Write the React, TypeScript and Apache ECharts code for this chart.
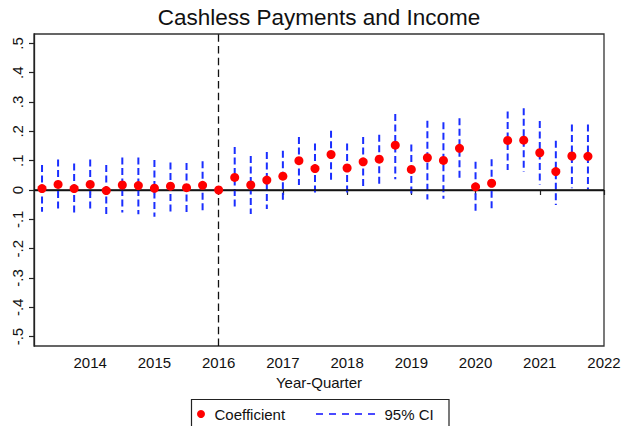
import React, { useEffect, useRef } from "react";
import * as echarts from "echarts";

// Event-study estimates by year-quarter (2016 Q1 is the reference period)
const period = [
  2013.25, 2013.5, 2013.75, 2014.0, 2014.25, 2014.5, 2014.75, 2015.0, 2015.25, 2015.5, 2015.75, 2016.0,
  2016.25, 2016.5, 2016.75, 2017.0, 2017.25, 2017.5, 2017.75, 2018.0, 2018.25, 2018.5, 2018.75, 2019.0,
  2019.25, 2019.5, 2019.75, 2020.0, 2020.25, 2020.5, 2020.75, 2021.0, 2021.25, 2021.5, 2021.75,
];
const coefficient = [
  0.005, 0.019, 0.005, 0.019, -0.002, 0.017, 0.015, 0.006, 0.013, 0.008, 0.016, 0.0,
  0.043, 0.017, 0.034, 0.047, 0.1, 0.073, 0.121, 0.075, 0.096, 0.105, 0.153, 0.07,
  0.11, 0.101, 0.142, 0.011, 0.023, 0.169, 0.17, 0.127, 0.063, 0.116, 0.115,
];
const ciLow: (number | null)[] = [
  -0.074, -0.066, -0.08, -0.068, -0.088, -0.077, -0.083, -0.091, -0.077, -0.083, -0.076, null,
  -0.062, -0.082, -0.065, -0.04, 0.017, -0.014, 0.028, -0.015, 0.011, 0.017, 0.037, -0.015,
  -0.032, -0.03, 0.038, -0.071, -0.066, 0.068, 0.062, 0.019, -0.051, 0.006, 0.002,
];
const ciHigh: (number | null)[] = [
  0.085, 0.104, 0.09, 0.104, 0.085, 0.111, 0.111, 0.102, 0.094, 0.092, 0.098, null,
  0.147, 0.116, 0.13, 0.134, 0.181, 0.159, 0.202, 0.159, 0.181, 0.188, 0.259, 0.155,
  0.236, 0.231, 0.245, 0.096, 0.105, 0.268, 0.279, 0.235, 0.168, 0.223, 0.223,
];
const yearTicks = [2014, 2015, 2016, 2017, 2018, 2019, 2020, 2021, 2022];
const valueTicks = [-0.5, -0.4, -0.3, -0.2, -0.1, 0, 0.1, 0.2, 0.3, 0.4, 0.5];
const referencePeriod = 2016;

const FONT = "'Liberation Sans', Arial, Helvetica, sans-serif";
const CI_BLUE = "#1a2eff";

function fmtValue(v: number): string {
  if (Math.abs(v) < 1e-9) return "0";
  const s = Math.abs(v).toFixed(1).replace(/^0/, "");
  return (v < 0 ? "-" : "") + s;
}

export default function App() {
  const ref = useRef<HTMLDivElement>(null);

  useEffect(() => {
    document.body.style.margin = "0";
    if (!ref.current) return;
    const chart = echarts.init(ref.current, null, { renderer: "svg" });

    const ciData = period
      .map((p, i) => [p, ciLow[i], ciHigh[i]])
      .filter((d) => d[1] !== null && d[2] !== null);
    const pointData = period.map((p, i) => [p, coefficient[i]]);

    chart.setOption({
      animation: false,
      backgroundColor: "#ffffff",
      textStyle: { fontFamily: FONT },
      grid: {
        left: 34,
        right: 20,
        top: 34,
        bottom: 80,
        show: true,
        borderColor: "#333333",
        borderWidth: 1.3,
        backgroundColor: "#ffffff",
      },
      xAxis: {
        type: "value",
        min: 2013.125,
        max: 2022,
        name: "Year-Quarter",
        nameLocation: "middle",
        nameGap: 27,
        nameTextStyle: { color: "#111", fontSize: 15, fontFamily: FONT },
        axisLine: { show: true, lineStyle: { color: "#222", width: 1.3 } },
        axisTick: {
          show: true,
          length: 5,
          customValues: yearTicks,
          lineStyle: { color: "#222", width: 1.2 },
        },
        axisLabel: {
          customValues: yearTicks,
          margin: 9,
          color: "#111",
          fontSize: 15,
          fontFamily: FONT,
          formatter: (v: number) => String(Math.round(v)),
        },
        splitLine: { show: false },
      },
      yAxis: {
        type: "value",
        min: -0.532,
        max: 0.532,
        axisLine: { show: true, lineStyle: { color: "#222", width: 1.3 } },
        axisTick: {
          show: true,
          length: 5,
          customValues: valueTicks,
          lineStyle: { color: "#222", width: 1.2 },
        },
        axisLabel: {
          customValues: valueTicks,
          rotate: 90,
          margin: 9,
          color: "#111",
          fontSize: 15,
          fontFamily: FONT,
          formatter: (v: number) => fmtValue(v),
        },
        splitLine: { show: false },
      },
      series: [
        {
          type: "custom",
          name: "95% CI",
          data: ciData,
          encode: { x: 0, y: [1, 2] },
          z: 2,
          silent: true,
          renderItem: (_params: any, api: any) => {
            const x = api.value(0);
            const top = api.coord([x, api.value(2)]);
            const bottom = api.coord([x, api.value(1)]);
            return {
              type: "line",
              shape: { x1: top[0], y1: top[1], x2: bottom[0], y2: bottom[1] },
              style: { stroke: CI_BLUE, lineWidth: 2, lineDash: [7, 3.5] },
            };
          },
        },
        {
          type: "scatter",
          name: "Coefficient",
          data: pointData,
          symbol: "circle",
          symbolSize: 9,
          z: 4,
          itemStyle: { color: "#ff0000", opacity: 1 },
          markLine: {
            silent: true,
            symbol: ["none", "none"],
            label: { show: false },
            z: 3,
            data: [
              { yAxis: 0, lineStyle: { color: "#111", type: "solid", width: 1.5 } },
              {
                xAxis: referencePeriod,
                lineStyle: { color: "#111", type: [7.5, 4.2], width: 1.3 },
              },
            ],
          },
        },
      ],
      graphic: [
        {
          type: "text",
          x: 319,
          y: 17,
          style: {
            text: "Cashless Payments and Income",
            fill: "#111",
            font: `22.5px ${FONT}`,
            textAlign: "center",
            textVerticalAlign: "middle",
          },
        },
        {
          type: "rect",
          shape: { x: 191.5, y: 399.5, width: 257.5, height: 40 },
          style: { fill: "#ffffff", stroke: "#222", lineWidth: 1.2 },
        },
        {
          type: "circle",
          shape: { cx: 201, cy: 414, r: 4 },
          style: { fill: "#ff0000" },
        },
        {
          type: "text",
          x: 214.5,
          y: 414,
          style: {
            text: "Coefficient",
            fill: "#111",
            font: `15px ${FONT}`,
            textAlign: "left",
            textVerticalAlign: "middle",
          },
        },
        {
          type: "line",
          shape: { x1: 316, y1: 414, x2: 376, y2: 414 },
          style: { stroke: "#4a4aff", lineWidth: 2, lineDash: [7, 6] },
        },
        {
          type: "text",
          x: 384.5,
          y: 414,
          style: {
            text: "95% CI",
            fill: "#111",
            font: `15px ${FONT}`,
            textAlign: "left",
            textVerticalAlign: "middle",
          },
        },
      ],
    });

    return () => chart.dispose();
  }, []);

  return <div ref={ref} style={{ width: 624, height: 426 }} />;
}
